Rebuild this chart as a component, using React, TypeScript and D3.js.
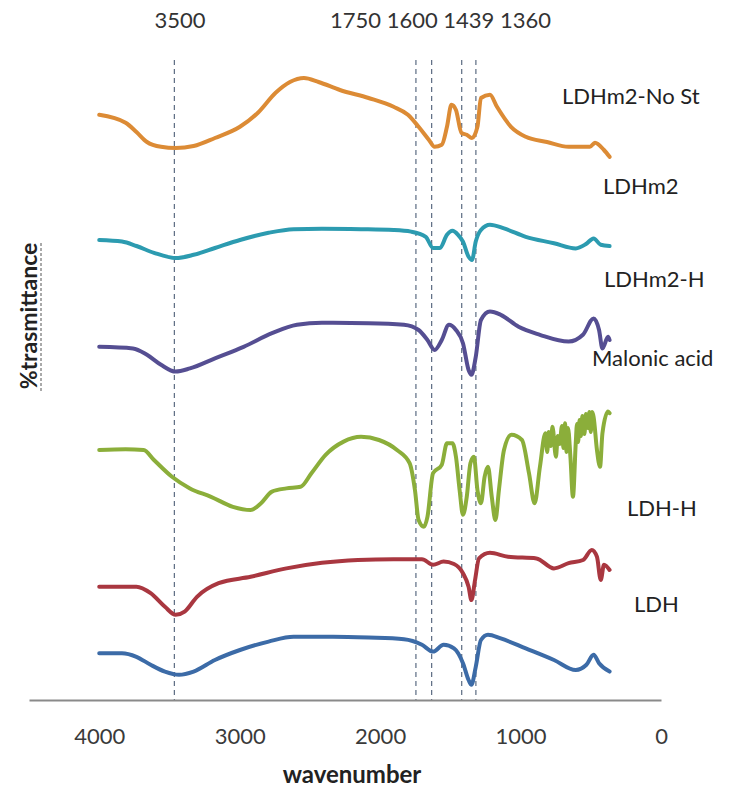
import React, { useEffect, useRef } from 'react';
import * as d3 from 'd3';

// wavenumber ticks on the reversed x axis
const xTicks = [4000, 3000, 2000, 1000, 0];
// labels written above the dashed marker lines
const markerLabels = ['3500', '1750', '1600', '1439', '1360'];
// where the dashed lines actually sit (cm-1)
const markerLines = [3465, 1745, 1633, 1419, 1318];

const seriesNames = ['LDHm2-No St', 'LDHm2', 'LDHm2-H', 'Malonic acid', 'LDH-H', 'LDH'];

// [wavenumber, stacked % transmittance]
const ldhm2NoSt = [
  [4000, 146.3], [3812, 144.3], [3735, 142], [3660, 139.5], [3560, 138.3], [3456, 138],
  [3328, 138.5], [3176, 140.5], [2998, 143.3], [2870, 146.8], [2744, 151.8], [2642, 154.5],
  [2542, 155.5], [2438, 154.5], [2286, 152.5], [2082, 150.5], [1904, 148.3], [1802, 146.3],
  [1726, 143.3], [1652, 140], [1612, 138.3], [1561, 138.8], [1524, 143.3], [1492, 148.8],
  [1460, 147.5], [1421, 141.8], [1383, 141.3], [1346, 140.5], [1307, 143.3], [1282, 150.5],
  [1218, 151.3], [1168, 148.3], [1068, 143.3], [963, 140.8], [812, 139.5], [658, 138.3],
  [506, 138.3], [470, 139.3], [406, 137.5], [366, 135.8],
];

const ldhm2 = [
  [4000, 115], [3838, 114.6], [3735, 113.5], [3610, 111.8], [3456, 110.5], [3328, 111.3],
  [3176, 113], [2998, 115], [2794, 116.8], [2616, 117.7], [2414, 117.8], [2136, 117.7],
  [1904, 117.5], [1780, 117.1], [1675, 115.8], [1623, 113], [1574, 113], [1524, 116.3],
  [1485, 117.3], [1445, 116.3], [1410, 114.6], [1370, 110.8], [1346, 110], [1319, 114.6],
  [1282, 117.5], [1218, 118.8], [1118, 117.9], [963, 115.8], [762, 114.2], [607, 112.9],
  [534, 114], [480, 115.4], [429, 113.8], [366, 113.5],
];

const ldhm2H = [
  [4000, 88.3], [3760, 87.9], [3660, 86.3], [3560, 83.8], [3456, 82.1], [3354, 82.9],
  [3176, 85.4], [2972, 88.3], [2770, 91.7], [2592, 93.8], [2414, 94.3], [2082, 94.2],
  [1830, 93.8], [1726, 92.5], [1663, 90], [1612, 87.5], [1561, 90], [1510, 93.8],
  [1460, 92.5], [1410, 89.2], [1370, 82.5], [1350, 81.3], [1319, 85.8], [1282, 95],
  [1218, 97.1], [1141, 96.3], [1014, 93.3], [862, 91.3], [658, 89.6], [556, 91.3],
  [480, 95.4], [441, 92.5], [417, 87.9], [377, 90.8], [366, 90],
];

const malonicAcid = [
  [4000, 62.5], [3812, 62.7], [3684, 62.5], [3610, 60], [3482, 55.8], [3354, 52.9],
  [3204, 50.8], [3048, 48.3], [2922, 47.5], [2848, 49.2], [2770, 52.1], [2667, 52.9],
  [2566, 53.3], [2489, 56.7], [2388, 61.3], [2260, 64.6], [2136, 65.8], [2008, 65],
  [1880, 62.5], [1790, 59.2], [1752, 52.5], [1726, 45], [1688, 43.3], [1663, 45.8],
  [1623, 56.7], [1561, 58.8], [1524, 64.2], [1485, 64.2], [1460, 60.8], [1434, 52.5],
  [1410, 46.3], [1383, 50.8], [1357, 59.2], [1332, 60.8], [1307, 52.5], [1282, 49.2],
  [1256, 55.8], [1232, 58.3], [1205, 50.8], [1179, 45], [1154, 52.5], [1118, 62.5],
  [1065, 66.3], [990, 65], [940, 56.7], [900, 49.2], [862, 58.3], [823, 66.7],
  [810, 62], [800, 67], [785, 63.5], [773, 68.3], [748, 60.8], [735, 66], [722, 64],
  [705, 68.5], [695, 63], [684, 69.2], [672, 62], [662, 68], [645, 60.8], [627, 50.8],
  [607, 64.2], [598, 69], [590, 64.5], [580, 70], [570, 66], [560, 71], [545, 66.5],
  [535, 71.5], [520, 68], [510, 72], [500, 67], [490, 72], [480, 70.8],
  [456, 62.5], [434, 58.3], [417, 66.7], [377, 72.1], [366, 71.7],
];

const ldhH = [
  [4000, 28.3], [3735, 28.3], [3634, 26.7], [3532, 23.3], [3456, 21.3], [3392, 22.1],
  [3304, 25.8], [3150, 29.2], [2922, 30.8], [2667, 32.9], [2414, 34.3], [2158, 35],
  [1904, 35.2], [1702, 35.2], [1623, 33.8], [1548, 34.6], [1474, 34], [1410, 31.7],
  [1370, 28.3], [1350, 25], [1324, 30], [1296, 35.4], [1218, 36.8], [1089, 35.8],
  [887, 35.4], [762, 32.9], [658, 34.2], [555, 35], [493, 37.5], [456, 35.8],
  [429, 30], [406, 33.8], [366, 32.5],
];

const ldh = [
  [4000, 11.7], [3838, 11.7], [3735, 10.8], [3634, 8.8], [3532, 7.1], [3432, 6.3],
  [3328, 7.1], [3176, 10], [2998, 12.5], [2794, 14.6], [2616, 15.8], [2336, 15.8],
  [2082, 15.6], [1830, 15.2], [1702, 13.8], [1623, 12.1], [1548, 13.8], [1474, 12.9],
  [1410, 9.2], [1370, 5], [1350, 3.8], [1319, 8.3], [1282, 15], [1232, 16.3],
  [1141, 15.4], [963, 12.9], [762, 10], [607, 7.5], [531, 8.8], [480, 11.3],
  [441, 9.2], [366, 7.1],
];

const seriesData = [ldhm2NoSt, ldhm2, ldhm2H, malonicAcid, ldhH, ldh];

const colors = ['#DC8B35', '#2C9BB0', '#554E92', '#8BAE3A', '#A93740', '#3C6BA7'];
const labelPos = [[562, 104], [603, 194], [604, 287], [592, 366], [627, 516], [634, 612]];

const FONT = 'Lato, "Open Sans", sans-serif';

const App = () => {
  const ref = useRef(null);

  useEffect(() => {
    if (ref.current) drawChart(ref.current);
  }, []);

  return (
    <svg
      ref={ref}
      width={735}
      height={796}
      style={{ position: 'absolute', left: 0, top: 0, background: '#fff' }}
    />
  );
};

function drawChart(node) {
  const svg = d3.select(node);
  svg.selectAll('*').remove();

  const x = d3.scaleLinear().domain([4500, 0]).range([29, 661]);
  const y = d3.scaleLinear().domain([0, 160]).range([700, 60]);

  // dashed marker lines
  svg.append('g')
    .selectAll('line')
    .data(markerLines)
    .enter()
    .append('line')
    .attr('x1', d => x(d))
    .attr('x2', d => x(d))
    .attr('y1', 60)
    .attr('y2', 700)
    .attr('stroke', '#5b6b82')
    .attr('stroke-width', 1.2)
    .attr('stroke-dasharray', '5,4');

  // labels above the marker lines
  svg.append('text')
    .attr('x', 180)
    .attr('y', 28)
    .attr('text-anchor', 'middle')
    .style('font-family', FONT)
    .style('font-size', '22px')
    .style('fill', '#333')
    .text(markerLabels[0]);

  svg.append('text')
    .attr('x', 330)
    .attr('y', 28)
    .style('font-family', FONT)
    .style('font-size', '22px')
    .style('fill', '#333')
    .text(markerLabels.slice(1).join(' '));

  // spectra
  const line = d3.line()
    .x(d => x(d[0]))
    .y(d => y(d[1]))
    .curve(d3.curveMonotoneX);

  seriesData.forEach((s, i) => {
    svg.append('path')
      .datum(s)
      .attr('d', line)
      .attr('fill', 'none')
      .attr('stroke', colors[i])
      .attr('stroke-width', 4)
      .attr('stroke-linejoin', 'round')
      .attr('stroke-linecap', 'round');
  });

  // series names
  seriesNames.forEach((name, i) => {
    svg.append('text')
      .attr('x', labelPos[i][0])
      .attr('y', labelPos[i][1])
      .style('font-family', FONT)
      .style('font-size', '22px')
      .style('fill', '#222')
      .text(name);
  });

  // x axis
  const axis = svg.append('g')
    .attr('transform', 'translate(0,700)')
    .call(d3.axisBottom(x).tickValues(xTicks).tickSize(0).tickPadding(28).tickFormat(d3.format('d')));

  axis.select('.domain')
    .attr('stroke', '#8a8a8a')
    .attr('stroke-width', 2);

  axis.selectAll('text')
    .style('font-family', FONT)
    .style('font-size', '22px')
    .style('fill', '#3a3a3a');

  // axis titles
  svg.append('text')
    .attr('x', 352)
    .attr('y', 783)
    .attr('text-anchor', 'middle')
    .style('font-family', FONT)
    .style('font-size', '24px')
    .style('font-weight', 'bold')
    .style('fill', '#222')
    .text('wavenumber');

  svg.append('text')
    .attr('transform', 'translate(37,316) rotate(-90)')
    .attr('text-anchor', 'middle')
    .style('font-family', FONT)
    .style('font-size', '23px')
    .style('font-weight', 'bold')
    .style('fill', '#222')
    .text('%trasmittance');

  svg.append('line')
    .attr('x1', 41)
    .attr('x2', 41)
    .attr('y1', 243)
    .attr('y2', 392)
    .attr('stroke', '#555')
    .attr('stroke-width', 1)
    .attr('stroke-dasharray', '3,2');
}

export default App;
